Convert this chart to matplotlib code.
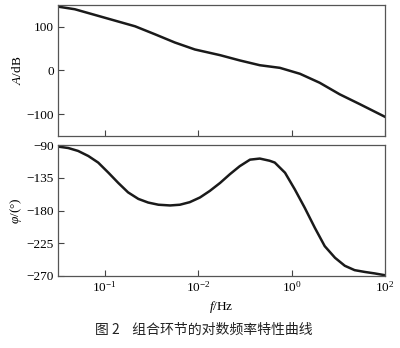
import numpy as np
import matplotlib
matplotlib.use("Agg")
import matplotlib.pyplot as plt

plt.rcParams['font.family'] = ['Liberation Serif', 'Noto Sans CJK SC', 'DejaVu Sans']
plt.rcParams['mathtext.fontset'] = 'custom'
plt.rcParams['mathtext.rm'] = 'Liberation Serif'
plt.rcParams['mathtext.it'] = 'Liberation Serif:italic'
plt.rcParams['mathtext.bf'] = 'Liberation Serif:bold'

# Magnitude curve (log10 f, dB)
mag_logf = [-5.0, -4.64, -4.21, -3.78, -3.35, -2.93, -2.50, -2.07, -1.53, -1.11, -0.68, -0.25,
            0.18, 0.60, 1.03, 1.46, 2.0]
mag_db = [146, 140, 127, 114, 101, 83, 64, 48, 35, 23, 12, 6, -7.6, -28, -54.5, -77, -106]

# Phase curve (log10 f, degrees)
ph_logf = [-5.0, -4.78, -4.57, -4.35, -4.14, -3.92, -3.71, -3.50, -3.28, -3.07, -2.85, -2.60,
           -2.39, -2.18, -1.96, -1.75, -1.53, -1.32, -1.11, -0.89, -0.68, -0.47, -0.36, -0.14,
           0.07, 0.28, 0.50, 0.71, 0.93, 1.14, 1.35, 1.57, 1.78, 2.0]
ph_deg = [-92, -94, -98, -105, -114, -128, -142, -155, -164, -169, -172, -173,
          -172, -168.5, -162, -153, -142, -130, -119, -110, -108.5, -111.5, -114, -128,
          -151, -176, -204, -229, -245, -256, -262, -264.5, -266.5, -269]

tick_pos = [1e-4, 1e-2, 1e0, 1e2]
tick_labels = [r'$10^{-1}$', r'$10^{-2}$', r'$10^{0}$', r'$10^{2}$']
mag_ticks = [100, 0, -100]
ph_ticks = [-90, -135, -180, -225, -270]

fig = plt.figure(figsize=(4.0, 3.48), dpi=100)
ax1 = fig.add_axes([0.145, 0.609, 0.8175, 0.377])
ax2 = fig.add_axes([0.145, 0.207, 0.8175, 0.376])

lw = 1.8
ax1.plot(10 ** np.array(mag_logf), mag_db, color='#1a1a1a', lw=lw, solid_joinstyle='round')
ax2.plot(10 ** np.array(ph_logf), ph_deg, color='#1a1a1a', lw=lw, solid_joinstyle='round')

for ax in (ax1, ax2):
    ax.set_xscale('log')
    ax.set_xlim(1e-5, 1e2)
    ax.set_xticks(tick_pos)
    ax.minorticks_off()
    ax.tick_params(direction='in', length=4, width=0.8, color='#444444', labelsize=9.5, pad=3)
    for s in ax.spines.values():
        s.set_color('#555555')
        s.set_linewidth(0.9)

ax1.set_ylim(-150, 150)
ax1.set_yticks(mag_ticks)
ax1.set_yticklabels(['100', '0', '\u2212100'])
ax1.set_xticklabels([])
ax1.set_ylabel(r'$A$/dB', fontsize=9.5, labelpad=2)

ax2.set_ylim(-270, -90)
ax2.set_yticks(ph_ticks)
ax2.set_yticklabels(['\u221290', '\u2212135', '\u2212180', '\u2212225', '\u2212270'])
ax2.set_xticklabels(tick_labels)
ax2.set_ylabel(r'$\varphi$/(°)', fontsize=9.5, labelpad=2)
ax2.set_xlabel(r'$f$/Hz', fontsize=9.5, labelpad=3)

fig.text(0.51, 0.052, '图 2    组合环节的对数频率特性曲线', ha='center', va='center',
         fontsize=10, family=['Noto Sans CJK SC', 'DejaVu Sans'], color='#222222')

fig.savefig('out.png', dpi=100)
